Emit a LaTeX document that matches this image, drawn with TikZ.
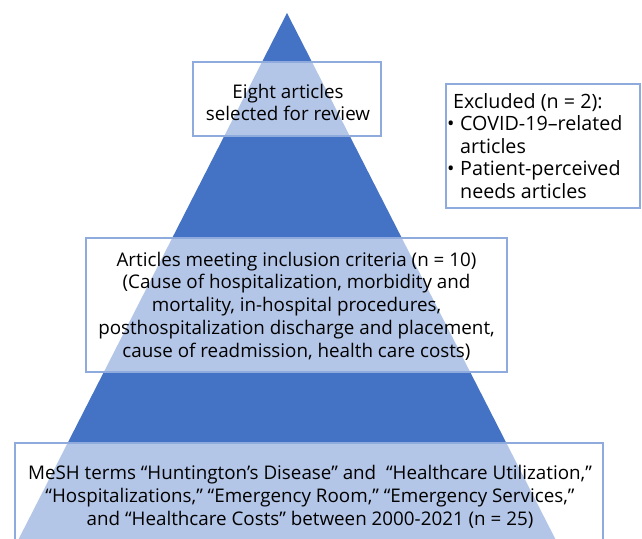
\documentclass[tikz,border=0pt]{standalone}
\usepackage{fontspec}
\setmainfont{Open Sans}
\usepackage{xcolor}
\definecolor{pyramid}{HTML}{4472C4}
\definecolor{boxline}{HTML}{8FAADC}
\usetikzlibrary{positioning}

\begin{document}
\begin{tikzpicture}[
        x=1pt, y=-1pt,
        font=\fontsize{18.8}{22.8}\selectfont,
        level/.style={draw=boxline, line width=1.3pt, fill=white,
            fill opacity=0.6, inner sep=0pt},
        note/.style={draw=boxline, line width=1.3pt, fill=white,
            inner sep=0pt},
        caption/.style={align=center, inner sep=0pt}
    ]
        \useasboundingbox (0,0) rectangle (642,538);

        % Pyramid behind the stages.
        \fill[pyramid] (287,13) -- (562.5,553) -- (11.5,553) -- cycle;

        % Stages, top to bottom.
        \node[level, minimum width=188pt, minimum height=74pt] (review)
            at (287,99) {};
        \node[caption] (reviewtext) at (288,102.5)
            {Eight articles\\selected for review};

        \node[level, minimum width=421pt, minimum height=134pt] (criteria)
            at (296.5,305) {};
        \node[caption] (criteriatext) at (296.5,306)
            {Articles meeting inclusion criteria (n = 10)\\
            (Cause of hospitalization, morbidity and\\
            mortality, in-hospital procedures,\\
            posthospitalization discharge and placement,\\
            cause of readmission, health care costs)};

        \node[level, minimum width=588pt, minimum height=105pt] (search)
            at (309,495.5) {};
        \node[caption] (searchtext) at (310,497)
            {MeSH terms “Huntington’s Disease” and\ \ “Healthcare Utilization,”\\
            “Hospitalizations,” “Emergency Room,” “Emergency Services,”\\
            and “Healthcare Costs” between 2000-2021 (n = 25)};

        % Side note.
        \node[note, minimum width=194pt, minimum height=124pt] (excluded)
            at (543,146) {};
        \node[anchor=north west, align=left, inner sep=0pt,
            font=\fontsize{19.7}{22.6}\selectfont] (exctext) at (453,93)
            {Excluded (n = 2):\\
            \hspace*{-6pt}\makebox[13pt][l]{•}COVID-19–related\\
            \hspace*{7pt}articles\\
            \hspace*{-6pt}\makebox[13pt][l]{•}Patient-perceived\\
            \hspace*{7pt}needs articles};
    \end{tikzpicture}
\end{document}
